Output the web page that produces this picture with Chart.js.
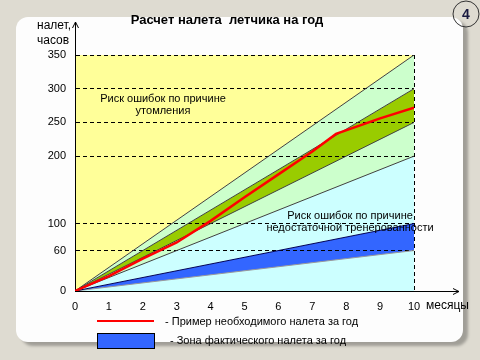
<!DOCTYPE html>
<html>
<head>
<meta charset="utf-8">
<script src="https://cdn.jsdelivr.net/npm/chart.js@4.4.0/dist/chart.umd.min.js"></script>
<style>
  body { margin: 0; background: #dedbd1; }
  #wrap { position: relative; width: 480px; height: 360px; overflow: hidden; }
  #panel { position: absolute; left: 16px; top: 17px; width: 447px; height: 325px; background: #fdfdfd; border-radius: 12px; box-shadow: 5px 4px 3px rgba(0,0,0,0.28); }
  canvas { position: absolute; left: 0; top: 0; }
</style>
</head>
<body>
<div id="wrap">
  <div id="panel"></div>
  <canvas id="myChart" width="480" height="360"></canvas>
</div>
<script>
// ---------------------------DATA---------------------------

var hourTicks = [0, 60, 100, 200, 250, 300, 350];
var monthMin = 0;
var monthMax = 10;

// zones: straight lines from month 0 to month 10
var zoneStart = [350, 0, 0, 0, 0, 0, 0];
var zoneEnd = [350, 350, 300, 250, 200, 100, 60];
var zoneColors = ["#ffff99", "#ccffcc", "#99cc00", "#ccffcc", "#ccffff", "#3366ff", "#ccffff"];
var zoneLines = ["rgba(0,0,0,0)", "#404040", "#404040", "#404040", "#404040", "#000055", "#9a9a9a"];

// example of required flight hours
var exampleX = [0, 1, 2, 3, 4, 5, 6, 7, 7.7, 9, 10];
var exampleY = [0, 22, 48, 72, 104, 139, 173, 207, 233, 256, 272];

// ---------------------------CHART---------------------------

Chart.defaults.font.family = "'Liberation Sans', Arial, sans-serif";
Chart.defaults.color = "#000";

var datasets = [{
  data: exampleX.map(function (x, i) { return { x: x, y: exampleY[i] }; }),
  borderColor: "#ff0000",
  borderWidth: 2.5,
  pointRadius: 0,
  tension: 0,
  fill: false
}];

for (var i = 0; i < zoneEnd.length; i++) {
  datasets.push({
    data: [{ x: monthMin, y: zoneStart[i] }, { x: monthMax, y: zoneEnd[i] }],
    borderColor: zoneLines[i],
    borderWidth: 1,
    backgroundColor: zoneColors[i],
    pointRadius: 0,
    fill: i < zoneEnd.length - 1 ? "+1" : "origin"
  });
}

function txt(c, s, x, y, font, align) {
  c.font = font;
  c.textAlign = align || "left";
  c.textBaseline = "middle";
  c.fillText(s, x, y);
}

var extras = {
  id: "extras",
  afterDraw: function (chart) {
    var c = chart.ctx, a = chart.chartArea;
    var x0 = Math.round(chart.scales.x.getPixelForValue(0)) + 0.5;
    var y0 = Math.round(chart.scales.y.getPixelForValue(0)) + 0.5;
    c.save();
    c.strokeStyle = "#000";
    c.lineWidth = 1;
    // axis extensions + arrows
    c.beginPath();
    c.moveTo(x0, a.top); c.lineTo(x0, 22);
    c.moveTo(x0 - 3, 28); c.lineTo(x0, 22); c.lineTo(x0 + 3, 28);
    c.moveTo(a.right, y0); c.lineTo(459, y0);
    c.moveTo(453, y0 - 3); c.lineTo(459, y0); c.lineTo(453, y0 + 3);
    c.stroke();

    c.fillStyle = "#000";
    txt(c, "Расчет налета  летчика на год", 227, 20, "bold 13px 'Liberation Sans', Arial", "center");
    txt(c, "налет,", 37, 26, "12px 'Liberation Sans', Arial");
    txt(c, "часов", 37, 41, "12px 'Liberation Sans', Arial");
    txt(c, "месяцы", 426, 306, "12px 'Liberation Sans', Arial");

    txt(c, "Риск ошибок по причине", 163, 99, "11px 'Liberation Sans', Arial", "center");
    txt(c, "утомления", 163, 111, "11px 'Liberation Sans', Arial", "center");
    txt(c, "Риск ошибок по причине", 350, 216, "11px 'Liberation Sans', Arial", "center");
    txt(c, "недостаточной тренерованности", 350, 228, "11px 'Liberation Sans', Arial", "center");

    // legend
    c.strokeStyle = "#ff0000";
    c.lineWidth = 2;
    c.beginPath(); c.moveTo(97, 321); c.lineTo(154, 321); c.stroke();
    c.fillStyle = "#3366ff";
    c.fillRect(97.5, 333.5, 57, 15);
    c.strokeStyle = "#000";
    c.lineWidth = 1;
    c.strokeRect(97.5, 333.5, 57, 15);
    c.fillStyle = "#000";
    txt(c, "- Пример необходимого налета за год", 165, 322, "11px 'Liberation Sans', Arial");
    txt(c, "- Зона фактического налета за год", 170, 341, "11px 'Liberation Sans', Arial");

    // slide number
    c.strokeStyle = "#333";
    c.beginPath(); c.arc(466, 14, 13, 0, Math.PI * 2); c.stroke();
    c.fillStyle = "#1a1a40";
    txt(c, "4", 466, 15, "bold 14px 'Liberation Sans', Arial", "center");
    c.restore();
  }
};

new Chart("myChart", {
  type: "line",
  data: { datasets: datasets },
  options: {
    responsive: false,
    animation: false,
    devicePixelRatio: 1,
    layout: { padding: { left: 0, top: 55, right: 66, bottom: 0 } },
    plugins: {
      legend: { display: false },
      tooltip: { enabled: false },
      filler: { drawTime: "beforeDraw" }
    },
    scales: {
      x: {
        type: "linear",
        min: monthMin,
        max: monthMax,
        afterFit: function (s) { s.height = 69; },
        ticks: { stepSize: 1, padding: 9, font: { size: 11 }, maxRotation: 0 },
        grid: {
          drawTicks: false,
          color: function (ctx) { return ctx.tick && ctx.tick.value === monthMax ? "#000" : "rgba(0,0,0,0)"; }
        },
        border: { color: "#000", dash: [4, 3] }
      },
      y: {
        min: 0,
        max: 350,
        afterFit: function (s) { s.width = 75; },
        afterBuildTicks: function (s) { s.ticks = hourTicks.map(function (v) { return { value: v }; }); },
        ticks: { padding: 9, font: { size: 11 } },
        grid: {
          drawTicks: false,
          color: function (ctx) { return ctx.tick && ctx.tick.value === 0 ? "rgba(0,0,0,0)" : "#000"; }
        },
        border: { color: "#000", dash: [4, 3] }
      }
    }
  },
  plugins: [extras]
});
</script>
</body>
</html>
